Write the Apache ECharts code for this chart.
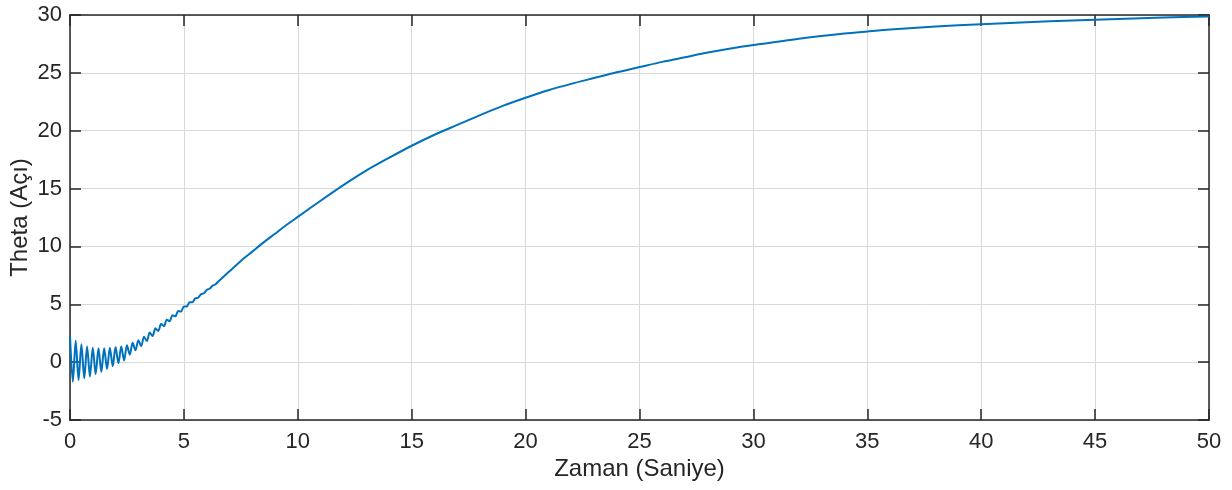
<!DOCTYPE html>
<html>
<head>
<meta charset="utf-8">
<script src="https://cdn.jsdelivr.net/npm/echarts@6/dist/echarts.min.js"></script>
<style>
  html, body { margin: 0; padding: 0; background: #ffffff; }
  #chart { width: 1232px; height: 490px; }
</style>
</head>
<body>
<div id="chart"></div>
<script>
// Time samples (seconds) and the corresponding angle response (degrees)
const timeValues = [
  0.000, 0.125, 0.250, 0.375, 0.500, 0.625, 0.750, 0.875,
  1.000, 1.125, 1.250, 1.375, 1.500, 1.625, 1.750, 1.875,
  2.000, 2.125, 2.250, 2.375, 2.500, 2.625, 2.750, 2.875,
  3.000, 3.125, 3.250, 3.375, 3.500, 3.625, 3.750, 3.875,
  4.000, 4.125, 4.250, 4.375, 4.500, 4.625, 4.750, 4.875,
  5.000, 5.125, 5.250, 5.375, 5.500, 5.625, 5.750, 5.875,
  6.000, 6.125, 6.250, 6.375, 6.500,
  7, 7.5, 8, 8.5, 9, 9.5, 10, 11, 12, 13, 14, 15, 16, 17, 18, 19, 20,
  21, 22, 23, 24, 25, 26, 27, 28, 29, 30, 32, 34, 35, 36, 38, 40,
  42, 44, 46, 48, 50
];
const thetaValues = [
  2.30, -1.70, 1.85, -1.55, 1.55, -1.40, 1.35, -1.25,
  1.25, -1.05, 1.20, -0.85, 1.20, -0.60, 1.25, -0.35,
  1.30, -0.10, 1.35, 0.15, 1.45, 0.65, 1.67, 1.02,
  1.90, 1.38, 2.20, 1.82, 2.56, 2.26, 2.92, 2.70,
  3.29, 3.12, 3.67, 3.54, 4.05, 3.96, 4.43, 4.38,
  4.81, 4.80, 5.17, 5.18, 5.52, 5.57, 5.87, 5.95,
  6.24, 6.34, 6.59, 6.71, 6.94,
  7.85, 8.75, 9.55, 10.35, 11.10, 11.85, 12.55, 13.95, 15.30, 16.55, 17.65, 18.70,
  19.65, 20.50, 21.35, 22.15, 22.85,
  23.50, 24.05, 24.55, 25.05, 25.50, 25.95, 26.35, 26.75, 27.10, 27.40,
  27.95, 28.40, 28.58, 28.75, 29.00, 29.20,
  29.38, 29.52, 29.65, 29.78, 29.88
];
const xTicks = { min: 0, max: 50, step: 5 };
const yTicks = { min: -5, max: 30, step: 5 };

const ink = '#262626';
const font = '"Liberation Sans", Arial, Helvetica, sans-serif';
const points = timeValues.map((t, i) => [t, thetaValues[i]]);

const chart = echarts.init(document.getElementById('chart'), null, { renderer: 'canvas' });

const baseAxis = {
  type: 'value',
  axisLine: { show: true, onZero: false, lineStyle: { color: ink, width: 1.5 } },
  axisTick: { show: true, inside: true, length: 11, lineStyle: { color: ink, width: 1.5 } },
  splitLine: { show: false },
  axisLabel: { show: false }
};

chart.setOption({
  animation: false,
  grid: {
    left: 70, right: 23, top: 15, bottom: 70,
    containLabel: false,
    outerBoundsMode: 'none'
  },
  xAxis: [
    Object.assign({}, baseAxis, {
      position: 'bottom',
      min: xTicks.min, max: xTicks.max, interval: xTicks.step,
      name: 'Zaman (Saniye)',
      nameLocation: 'middle',
      nameGap: 37,
      nameMoveOverlap: false,
      nameTextStyle: { color: ink, fontSize: 24, fontFamily: font },
      axisLabel: { show: true, color: ink, fontSize: 22, fontFamily: font, margin: 11 },
      splitLine: { show: true, lineStyle: { color: '#d9d9d9', width: 1 } }
    }),
    Object.assign({}, baseAxis, {
      position: 'top',
      min: xTicks.min, max: xTicks.max, interval: xTicks.step
    })
  ],
  yAxis: [
    Object.assign({}, baseAxis, {
      position: 'left',
      min: yTicks.min, max: yTicks.max, interval: yTicks.step,
      name: 'Theta (Açı)',
      nameLocation: 'middle',
      nameGap: 38,
      nameMoveOverlap: false,
      nameTextStyle: { color: ink, fontSize: 24, fontFamily: font },
      axisLabel: { show: true, color: ink, fontSize: 22, fontFamily: font, margin: 8 },
      splitLine: { show: true, lineStyle: { color: '#d9d9d9', width: 1 } }
    }),
    Object.assign({}, baseAxis, {
      position: 'right',
      min: yTicks.min, max: yTicks.max, interval: yTicks.step
    })
  ],
  series: [{
    type: 'line',
    xAxisIndex: 0,
    yAxisIndex: 0,
    data: points,
    showSymbol: false,
    smooth: 0.3,
    lineStyle: { color: '#0072BD', width: 2 },
    z: 3
  }]
});
</script>
</body>
</html>
